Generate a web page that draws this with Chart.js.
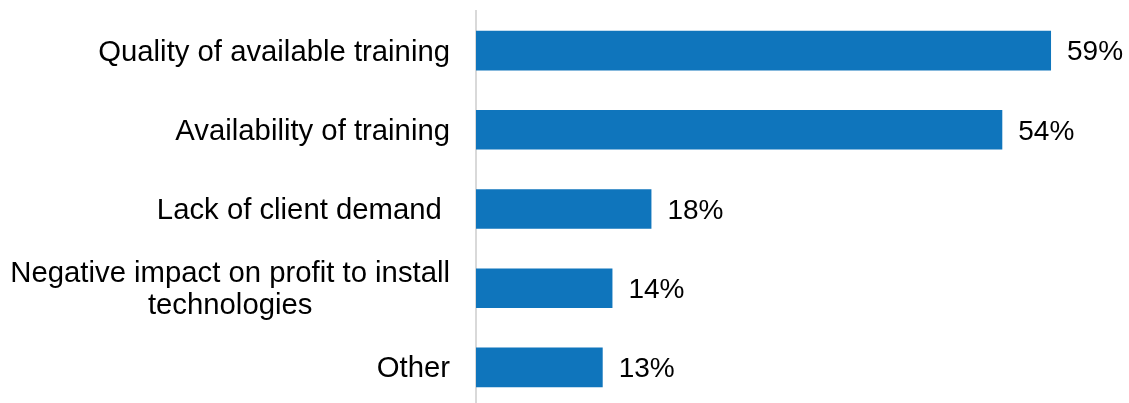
<!DOCTYPE html>
<html>
<head>
<meta charset="utf-8">
<script src="https://cdn.jsdelivr.net/npm/chart.js@4"></script>
<style>
  html, body { margin: 0; padding: 0; background: #fff; overflow: hidden; }
  #wrap { width: 1129px; height: 410px; position: relative; }
</style>
</head>
<body>
<div id="wrap"><canvas id="barriersChart"></canvas></div>
<script>
// Categories (multi-line labels given as arrays) and their percentages
const categories = [
  'Quality of available training',
  'Availability of training',
  'Lack of client demand ',
  ['Negative impact on profit to install', 'technologies'],
  'Other'
];
const percentages = [59, 54, 18, 14, 13];

const BAR_COLOR = '#0F75BC';
const FONT = '"Liberation Sans", Arial, sans-serif';
const CAT_FONT_SIZE = 29.3;
const VALUE_FONT_SIZE = 28;

// Draws the category names left of the axis and the % values after each bar
const labelPlugin = {
  id: 'labelPlugin',
  afterDraw(chart) {
    const ctx = chart.ctx;
    const yScale = chart.scales.y;
    const meta = chart.getDatasetMeta(0);
    ctx.save();
    ctx.fillStyle = '#000';
    ctx.textBaseline = 'middle';

    ctx.font = CAT_FONT_SIZE + 'px ' + FONT;
    const rightEdge = yScale.right - 26;
    const lineHeight = 32;
    categories.forEach((label, i) => {
      const y = yScale.getPixelForTick(i) + 2;
      const lines = Array.isArray(label) ? label : [label];
      const widest = Math.max(...lines.map(l => ctx.measureText(l).width));
      const startY = y - (lines.length - 1) * lineHeight / 2;
      if (lines.length > 1) {
        ctx.textAlign = 'center';
        lines.forEach((l, k) => ctx.fillText(l, rightEdge - widest / 2, startY + k * lineHeight));
      } else {
        ctx.textAlign = 'right';
        ctx.fillText(lines[0], rightEdge, y);
      }
    });

    ctx.font = VALUE_FONT_SIZE + 'px ' + FONT;
    ctx.textAlign = 'left';
    meta.data.forEach((bar, i) => {
      ctx.fillText(percentages[i] + '%', bar.x + 16, bar.y + 2);
    });
    ctx.restore();
  }
};

new Chart(document.getElementById('barriersChart'), {
  type: 'bar',
  data: {
    labels: categories,
    datasets: [{
      data: percentages,
      backgroundColor: BAR_COLOR,
      borderWidth: 0,
      barPercentage: 0.5,
      categoryPercentage: 1.0
    }]
  },
  options: {
    indexAxis: 'y',
    responsive: true,
    maintainAspectRatio: false,
    animation: false,
    layout: { padding: { top: 11, bottom: 3, left: 0, right: 0 } },
    plugins: {
      legend: { display: false },
      tooltip: { enabled: false }
    },
    scales: {
      x: {
        display: false,
        min: 0,
        max: 67
      },
      y: {
        grid: { display: false },
        ticks: { display: false },
        border: { display: true, color: '#D9D9D9', width: 2 },
        afterFit(scale) { scale.width = 476; }
      }
    }
  },
  plugins: [labelPlugin]
});
</script>
</body>
</html>
